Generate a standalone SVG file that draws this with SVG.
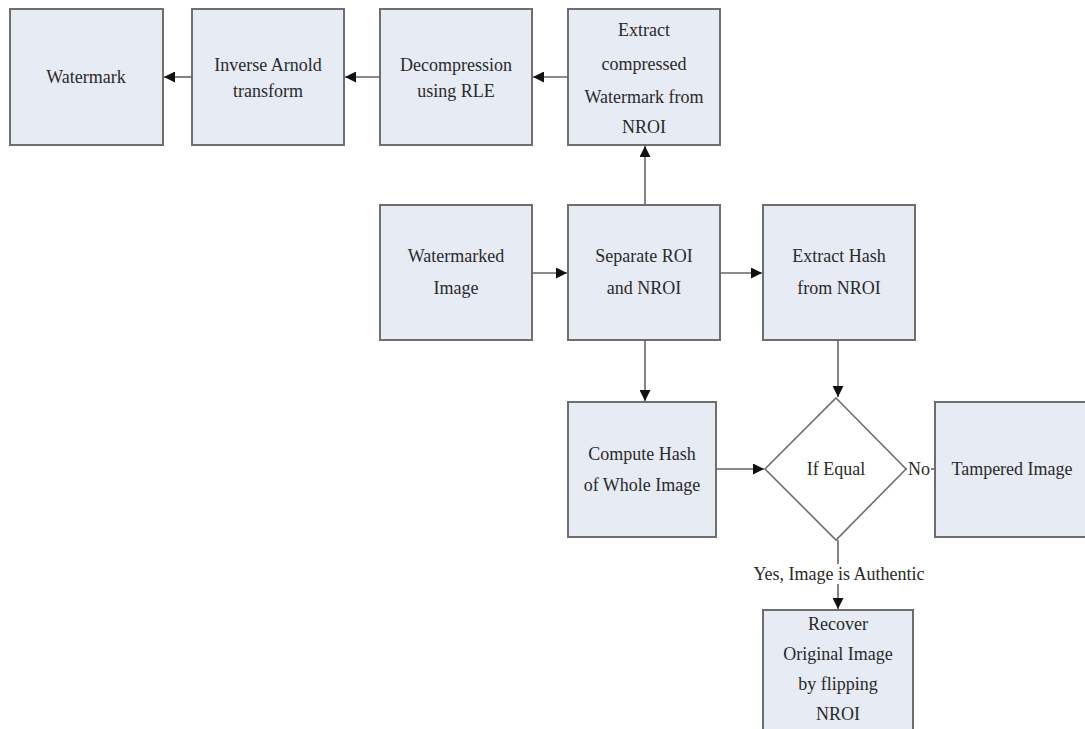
<svg xmlns="http://www.w3.org/2000/svg" width="1085" height="729" viewBox="0 0 1085 729">
<defs>
<marker id="ah" viewBox="0 0 10 10" refX="10" refY="5" markerWidth="11" markerHeight="11" markerUnits="userSpaceOnUse" orient="auto">
<path d="M0,0 L10,5 L0,10 z" fill="#111"/>
</marker>
<style>
.box{fill:#e6ebf4;stroke:#6e6e6e;stroke-width:2}
.t{font-family:'Liberation Serif','DejaVu Serif','Times New Roman',serif;font-size:18px;fill:#2a2a2a;text-anchor:middle}
.c{stroke:#666;stroke-width:1.6;fill:none;marker-end:url(#ah)}
.l{stroke:#666;stroke-width:1.6;fill:none}
</style>
</defs>
<rect width="1085" height="729" fill="#ffffff"/>
<g id="watermark"><rect class="box" x="10" y="9" width="153" height="136"/><text class="t" font-family="Liberation Serif" x="86" y="83">Watermark</text></g>
<g id="inverse-arnold"><rect class="box" x="192" y="9" width="152" height="136"/><text class="t" x="268" y="71">Inverse Arnold</text><text class="t" x="268" y="97">transform</text></g>
<g id="decompression"><rect class="box" x="380" y="9" width="152" height="136"/><text class="t" x="456" y="71">Decompression</text><text class="t" x="456" y="97">using RLE</text></g>
<g id="extract-compressed"><rect class="box" x="568" y="9" width="152" height="136"/><text class="t" x="644" y="36">Extract</text><text class="t" x="644" y="70">compressed</text><text class="t" x="644" y="103">Watermark from</text><text class="t" x="644" y="133">NROI</text></g>
<g id="watermarked-image"><rect class="box" x="380" y="205" width="152" height="135"/><text class="t" x="456" y="262">Watermarked</text><text class="t" x="456" y="294">Image</text></g>
<g id="separate"><rect class="box" x="568" y="205" width="152" height="135"/><text class="t" x="644" y="262">Separate ROI</text><text class="t" x="644" y="294">and NROI</text></g>
<g id="extract-hash"><rect class="box" x="763" y="205" width="152" height="135"/><text class="t" x="839" y="262">Extract Hash</text><text class="t" x="839" y="294">from NROI</text></g>
<g id="compute-hash"><rect class="box" x="568" y="402" width="148" height="135"/><text class="t" x="642" y="460">Compute Hash</text><text class="t" x="642" y="491">of Whole Image</text></g>
<g id="if-equal"><polygon points="836,398 906,469 836,540 765,469" fill="#ffffff" stroke="#6e6e6e" stroke-width="1.6"/><text class="t" x="836" y="475">If Equal</text></g>
<g id="tampered"><rect class="box" x="935" y="402" width="160" height="135"/><text class="t" x="1012" y="475">Tampered Image</text></g>
<g id="recover"><rect class="box" x="763" y="610" width="150" height="130"/><text class="t" x="838" y="630">Recover</text><text class="t" x="838" y="660">Original Image</text><text class="t" x="838" y="690">by flipping</text><text class="t" x="838" y="720">NROI</text></g>
<g id="connectors">
<path class="c" d="M192,77 L164,77"/>
<path class="c" d="M380,77 L345,77"/>
<path class="c" d="M568,77 L533,77"/>
<path class="c" d="M645,205 L645,146"/>
<path class="c" d="M532,273 L567,273"/>
<path class="c" d="M720,273 L762,273"/>
<path class="c" d="M838,340 L838,397"/>
<path class="c" d="M645,340 L645,401"/>
<path class="c" d="M716,469 L764,469"/>
<path class="l" d="M906,469 L935,469"/>
<path class="c" d="M838,540 L838,609"/>
<rect x="907" y="458" width="24" height="22" fill="#ffffff"/>
<text class="t" x="919" y="475">No</text>
<rect x="735" y="564" width="208" height="20" fill="#ffffff"/>
<text class="t" x="839" y="580">Yes, Image is Authentic</text>
</g>
</svg>
